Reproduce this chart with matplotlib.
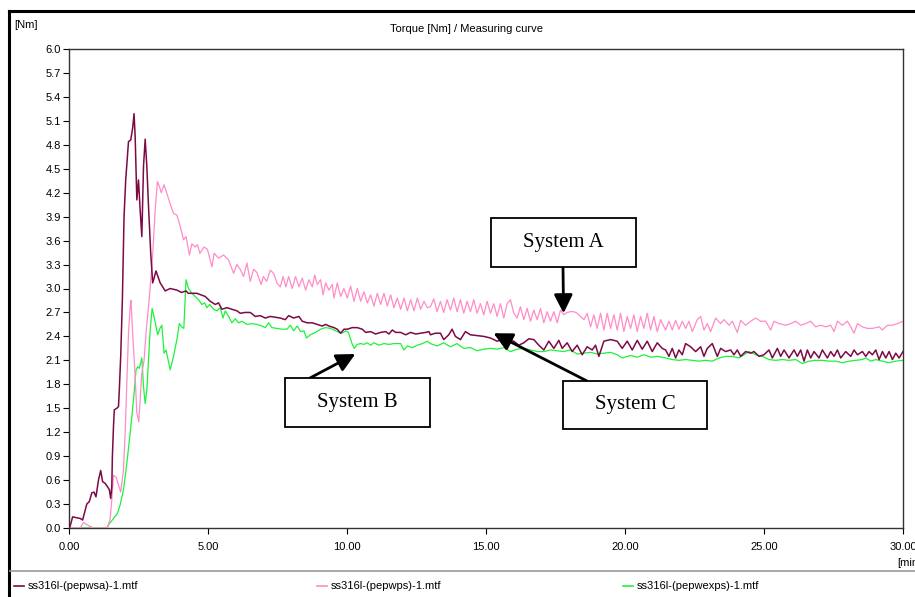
import numpy as np
import matplotlib
matplotlib.use('Agg')
import matplotlib.pyplot as plt
from matplotlib.lines import Line2D
from matplotlib.patches import Rectangle

# torque curves: (time [min], torque [Nm])
wsa = [(0.0, 0.0), (0.04, 0.02), (0.13, 0.14), (0.25, 0.13), (0.40, 0.12), (0.49, 0.10), (0.64, 0.30),
       (0.73, 0.33), (0.82, 0.44), (0.90, 0.45), (0.97, 0.39), (1.06, 0.60), (1.14, 0.72), (1.21, 0.58),
       (1.30, 0.56), (1.38, 0.52), (1.45, 0.48), (1.50, 0.37), (1.54, 0.52), (1.56, 0.89), (1.60, 1.27),
       (1.63, 1.48), (1.72, 1.50), (1.78, 1.52), (1.81, 1.73), (1.86, 2.15), (1.92, 2.86), (1.98, 3.90),
       (2.04, 4.36), (2.14, 4.84), (2.22, 4.86), (2.29, 5.01), (2.34, 5.19), (2.38, 4.90), (2.44, 4.11),
       (2.50, 4.36), (2.56, 3.98), (2.62, 3.65), (2.68, 4.53), (2.74, 4.87), (2.80, 4.53), (2.86, 4.03),
       (2.94, 3.44), (3.01, 3.07), (3.06, 3.13), (3.13, 3.22), (3.28, 3.07), (3.46, 2.97), (3.64, 3.00),
       (3.88, 2.98), (4.05, 2.95), (4.21, 2.97), (4.29, 2.94), (4.60, 2.94), (4.90, 2.90), (5.08, 2.84),
       (5.26, 2.80), (5.38, 2.82), (5.50, 2.74), (5.68, 2.76), (5.86, 2.74), (6.04, 2.72), (6.16, 2.69),
       (6.34, 2.70), (6.52, 2.70), (6.70, 2.65), (6.88, 2.66), (7.06, 2.63), (7.24, 2.65), (7.42, 2.64),
       (7.60, 2.63), (7.78, 2.61), (7.90, 2.66), (8.08, 2.63), (8.27, 2.65), (8.39, 2.59), (8.57, 2.57),
       (8.75, 2.57), (8.93, 2.55), (9.11, 2.53), (9.23, 2.55), (9.35, 2.53), (9.53, 2.51), (9.65, 2.49),
       (9.77, 2.44), (9.89, 2.49), (10.01, 2.49), (10.19, 2.51), (10.37, 2.51), (10.55, 2.49), (10.67, 2.45),
       (10.85, 2.46), (11.03, 2.43), (11.21, 2.45), (11.39, 2.46), (11.51, 2.43), (11.63, 2.48), (11.75, 2.45),
       (11.93, 2.45), (12.11, 2.42), (12.29, 2.45), (12.47, 2.43), (12.65, 2.44), (12.83, 2.45), (12.95, 2.46),
       (13.00, 2.42), (13.18, 2.44), (13.36, 2.44), (13.48, 2.36), (13.66, 2.42), (13.78, 2.49), (13.90, 2.40),
       (14.08, 2.36), (14.26, 2.46), (14.44, 2.42), (14.68, 2.41), (14.92, 2.40), (15.16, 2.38), (15.40, 2.34),
       (15.58, 2.36), (15.76, 2.36), (16.00, 2.34), (16.18, 2.29), (16.36, 2.32), (16.54, 2.37), (16.72, 2.36),
       (16.90, 2.29), (17.08, 2.23), (17.26, 2.34), (17.44, 2.25), (17.62, 2.35), (17.74, 2.25), (17.92, 2.32),
       (18.10, 2.21), (18.28, 2.29), (18.46, 2.17), (18.64, 2.27), (18.82, 2.23), (18.94, 2.29), (19.06, 2.15),
       (19.24, 2.34), (19.48, 2.36), (19.72, 2.34), (19.90, 2.25), (20.08, 2.34), (20.26, 2.23), (20.44, 2.35),
       (20.62, 2.24), (20.80, 2.34), (20.98, 2.21), (21.16, 2.32), (21.34, 2.25), (21.46, 2.23), (21.58, 2.15),
       (21.70, 2.25), (21.82, 2.13), (21.94, 2.23), (22.06, 2.17), (22.18, 2.31), (22.36, 2.27), (22.54, 2.21),
       (22.72, 2.27), (22.84, 2.15), (22.96, 2.25), (23.14, 2.31), (23.32, 2.15), (23.44, 2.25), (23.62, 2.21),
       (23.80, 2.23), (23.92, 2.17), (24.04, 2.23), (24.16, 2.15), (24.34, 2.21), (24.52, 2.19), (24.64, 2.21),
       (24.82, 2.15), (25.00, 2.17), (25.18, 2.23), (25.30, 2.13), (25.48, 2.25), (25.60, 2.15), (25.72, 2.23),
       (25.90, 2.13), (26.08, 2.23), (26.20, 2.15), (26.32, 2.23), (26.44, 2.09), (26.56, 2.23), (26.68, 2.13),
       (26.80, 2.21), (26.98, 2.13), (27.10, 2.23), (27.28, 2.13), (27.40, 2.21), (27.52, 2.15), (27.64, 2.23),
       (27.76, 2.13), (27.94, 2.21), (28.12, 2.15), (28.24, 2.23), (28.36, 2.17), (28.54, 2.21), (28.66, 2.15),
       (28.78, 2.21), (28.90, 2.17), (29.02, 2.23), (29.14, 2.11), (29.26, 2.21), (29.38, 2.13), (29.50, 2.21),
       (29.62, 2.11), (29.74, 2.19), (29.86, 2.13), (30.00, 2.21)]

wps = [(0.0, 0.0), (0.40, 0.0), (0.52, 0.07), (0.70, 0.03), (0.88, 0.0), (1.39, 0.0), (1.48, 0.12),
       (1.54, 0.35), (1.60, 0.66), (1.69, 0.64), (1.78, 0.54), (1.86, 0.45), (1.96, 0.73), (2.02, 1.19),
       (2.08, 1.81), (2.14, 2.44), (2.20, 2.77), (2.23, 2.85), (2.29, 2.44), (2.38, 1.90), (2.44, 1.44),
       (2.51, 1.33), (2.56, 1.60), (2.62, 1.94), (2.70, 2.10), (2.77, 2.44), (2.86, 2.77), (2.98, 3.27),
       (3.04, 3.61), (3.10, 3.98), (3.18, 4.34), (3.25, 4.28), (3.32, 4.20), (3.42, 4.30), (3.52, 4.19),
       (3.64, 4.06), (3.76, 3.94), (3.88, 3.92), (4.00, 3.78), (4.12, 3.61), (4.21, 3.65), (4.33, 3.42),
       (4.42, 3.56), (4.54, 3.52), (4.62, 3.55), (4.71, 3.44), (4.86, 3.52), (4.98, 3.49), (5.14, 3.27),
       (5.22, 3.44), (5.38, 3.38), (5.56, 3.42), (5.74, 3.36), (5.92, 3.19), (6.04, 3.30), (6.16, 3.24),
       (6.28, 3.15), (6.40, 3.32), (6.52, 3.09), (6.64, 3.24), (6.76, 3.20), (6.91, 3.05), (6.99, 3.15),
       (7.11, 3.09), (7.24, 3.23), (7.36, 3.19), (7.48, 3.07), (7.60, 3.02), (7.70, 3.15), (7.80, 3.02),
       (7.90, 3.15), (8.03, 3.00), (8.15, 3.15), (8.27, 3.02), (8.39, 3.13), (8.51, 2.98), (8.63, 3.11),
       (8.75, 3.02), (8.84, 3.17), (8.93, 3.05), (9.05, 3.11), (9.14, 2.92), (9.23, 3.07), (9.35, 2.98),
       (9.47, 3.05), (9.53, 2.88), (9.65, 3.07), (9.77, 2.90), (9.89, 3.00), (10.01, 2.88), (10.13, 3.03),
       (10.25, 2.84), (10.37, 3.00), (10.49, 2.84), (10.61, 2.96), (10.73, 2.82), (10.85, 2.92), (10.97, 2.78),
       (11.09, 2.94), (11.21, 2.80), (11.33, 2.94), (11.45, 2.78), (11.57, 2.92), (11.69, 2.76), (11.81, 2.88),
       (11.93, 2.74), (12.05, 2.88), (12.17, 2.72), (12.29, 2.86), (12.41, 2.72), (12.53, 2.88), (12.65, 2.74),
       (12.77, 2.84), (12.89, 2.76), (13.00, 2.77), (13.12, 2.87), (13.24, 2.71), (13.36, 2.84), (13.48, 2.70),
       (13.60, 2.86), (13.72, 2.73), (13.84, 2.88), (13.96, 2.71), (14.08, 2.86), (14.20, 2.69), (14.32, 2.84),
       (14.44, 2.71), (14.56, 2.86), (14.68, 2.69), (14.80, 2.81), (14.92, 2.67), (15.04, 2.84), (15.16, 2.69),
       (15.28, 2.81), (15.40, 2.65), (15.52, 2.81), (15.64, 2.63), (15.76, 2.81), (15.88, 2.86), (16.00, 2.69),
       (16.12, 2.63), (16.24, 2.77), (16.36, 2.61), (16.48, 2.75), (16.60, 2.59), (16.72, 2.73), (16.84, 2.61),
       (16.96, 2.75), (17.08, 2.57), (17.20, 2.71), (17.32, 2.59), (17.44, 2.71), (17.56, 2.57), (17.68, 2.73),
       (17.80, 2.67), (17.92, 2.70), (18.04, 2.71), (18.16, 2.71), (18.28, 2.69), (18.40, 2.65), (18.52, 2.61),
       (18.64, 2.69), (18.76, 2.52), (18.88, 2.67), (19.00, 2.50), (19.12, 2.69), (19.24, 2.48), (19.36, 2.69),
       (19.48, 2.50), (19.60, 2.67), (19.72, 2.48), (19.84, 2.69), (19.96, 2.46), (20.08, 2.65), (20.20, 2.50),
       (20.32, 2.67), (20.44, 2.46), (20.56, 2.65), (20.68, 2.50), (20.80, 2.69), (20.92, 2.48), (21.04, 2.65),
       (21.16, 2.46), (21.28, 2.61), (21.46, 2.48), (21.58, 2.59), (21.70, 2.48), (21.82, 2.60), (21.94, 2.49),
       (22.06, 2.59), (22.18, 2.50), (22.30, 2.59), (22.42, 2.46), (22.60, 2.61), (22.72, 2.65), (22.84, 2.48),
       (22.96, 2.56), (23.08, 2.46), (23.26, 2.63), (23.44, 2.56), (23.56, 2.61), (23.74, 2.54), (23.86, 2.59),
       (24.04, 2.45), (24.16, 2.60), (24.34, 2.54), (24.52, 2.59), (24.70, 2.63), (24.88, 2.59), (25.06, 2.59),
       (25.24, 2.48), (25.36, 2.59), (25.54, 2.56), (25.78, 2.54), (25.96, 2.56), (26.14, 2.59), (26.32, 2.54),
       (26.50, 2.56), (26.68, 2.59), (26.86, 2.52), (27.04, 2.54), (27.22, 2.52), (27.40, 2.54), (27.52, 2.46),
       (27.64, 2.59), (27.82, 2.54), (28.00, 2.59), (28.12, 2.52), (28.24, 2.44), (28.36, 2.56), (28.54, 2.52),
       (28.72, 2.50), (28.90, 2.50), (29.14, 2.52), (29.26, 2.48), (29.44, 2.54), (29.62, 2.54), (29.80, 2.56),
       (30.00, 2.59)]

wexps = [(0.0, 0.0), (1.36, 0.0), (1.42, 0.04), (1.60, 0.12), (1.74, 0.18), (1.84, 0.29), (1.96, 0.48),
         (2.08, 0.81), (2.20, 1.19), (2.32, 1.60), (2.41, 1.98), (2.47, 2.02), (2.53, 2.00), (2.62, 2.13),
         (2.68, 1.77), (2.74, 1.56), (2.80, 1.73), (2.86, 2.10), (2.92, 2.48), (2.99, 2.75), (3.07, 2.63),
         (3.19, 2.42), (3.27, 2.50), (3.34, 2.54), (3.42, 2.19), (3.49, 2.23), (3.55, 2.13), (3.64, 1.98),
         (3.76, 2.15), (3.88, 2.36), (3.97, 2.56), (4.05, 2.52), (4.13, 2.50), (4.21, 3.11), (4.30, 3.00),
         (4.42, 2.94), (4.54, 2.90), (4.66, 2.86), (4.78, 2.80), (4.88, 2.82), (4.96, 2.76), (5.06, 2.80),
         (5.20, 2.74), (5.32, 2.72), (5.44, 2.76), (5.54, 2.63), (5.62, 2.72), (5.74, 2.65), (5.86, 2.57),
         (5.98, 2.62), (6.10, 2.57), (6.22, 2.59), (6.40, 2.55), (6.58, 2.56), (6.76, 2.55), (6.94, 2.53),
         (7.06, 2.51), (7.18, 2.57), (7.30, 2.51), (7.48, 2.50), (7.66, 2.49), (7.84, 2.49), (7.96, 2.54),
         (8.08, 2.47), (8.21, 2.53), (8.33, 2.46), (8.45, 2.47), (8.54, 2.38), (8.68, 2.42), (8.87, 2.45),
         (9.05, 2.49), (9.23, 2.51), (9.41, 2.50), (9.59, 2.47), (9.71, 2.45), (9.83, 2.44), (9.95, 2.47),
         (10.05, 2.45), (10.18, 2.31), (10.26, 2.25), (10.37, 2.30), (10.49, 2.31), (10.61, 2.30), (10.73, 2.32),
         (10.85, 2.29), (10.97, 2.32), (11.15, 2.29), (11.33, 2.31), (11.51, 2.30), (11.69, 2.31), (11.93, 2.31),
         (12.05, 2.23), (12.17, 2.28), (12.35, 2.26), (12.53, 2.29), (12.71, 2.31), (12.89, 2.34), (13.00, 2.31),
         (13.24, 2.28), (13.48, 2.32), (13.72, 2.27), (13.96, 2.31), (14.20, 2.25), (14.44, 2.26), (14.68, 2.22),
         (14.92, 2.24), (15.16, 2.25), (15.40, 2.24), (15.64, 2.26), (15.88, 2.21), (16.12, 2.24), (16.36, 2.25),
         (16.60, 2.23), (16.84, 2.21), (17.08, 2.21), (17.32, 2.23), (17.56, 2.22), (17.80, 2.21), (18.04, 2.23),
         (18.28, 2.18), (18.52, 2.19), (18.76, 2.20), (19.00, 2.18), (19.24, 2.19), (19.48, 2.20), (19.72, 2.17),
         (19.90, 2.13), (20.20, 2.16), (20.44, 2.14), (20.68, 2.17), (20.92, 2.14), (21.16, 2.15), (21.46, 2.13),
         (21.70, 2.11), (21.94, 2.10), (22.18, 2.11), (22.42, 2.10), (22.66, 2.09), (22.90, 2.10), (23.14, 2.09),
         (23.38, 2.13), (23.62, 2.15), (23.86, 2.15), (24.10, 2.13), (24.28, 2.17), (24.46, 2.21), (24.70, 2.17),
         (24.94, 2.15), (25.18, 2.11), (25.42, 2.10), (25.66, 2.11), (25.90, 2.10), (26.14, 2.11), (26.38, 2.06),
         (26.62, 2.09), (26.86, 2.10), (27.10, 2.10), (27.34, 2.09), (27.58, 2.09), (27.82, 2.07), (28.06, 2.09),
         (28.30, 2.10), (28.54, 2.11), (28.66, 2.13), (28.84, 2.09), (29.02, 2.11), (29.26, 2.09), (29.50, 2.07),
         (29.74, 2.09), (30.00, 2.10)]

names = ['ss316l-(pepwsa)-1.mtf', 'ss316l-(pepwps)-1.mtf', 'ss316l-(pepwexps)-1.mtf']
colors = ['#7d0a45', '#ff8cc8', '#1ef23c']

# annotation labels and the (time, torque) each arrow points at
labels = ['System A', 'System B', 'System C']
targets = [(17.79, 2.69), (10.30, 2.18), (15.27, 2.44)]

W, H = 915, 597
plt.rcParams['font.family'] = ['Liberation Sans', 'DejaVu Sans']


def px(x, y):
    # image pixel (top-left origin) -> figure fraction
    return x / W, 1 - y / H


fig = plt.figure(figsize=(W / 100, H / 100), dpi=100)
x0, y0 = px(69, 528)
x1, y1 = px(903, 49)
ax = fig.add_axes([x0, y0, x1 - x0, y1 - y0])

for series, c, lw, z in [(wexps, colors[2], 0.9, 2), (wps, colors[1], 0.9, 3), (wsa, colors[0], 1.1, 4)]:
    d = np.array(series)
    ax.plot(d[:, 0], d[:, 1], color=c, lw=lw, zorder=z)

ax.set_xlim(0, 30)
ax.set_ylim(0, 6)
ax.set_xticks(np.arange(0, 31, 5))
ax.set_xticklabels(['%.2f' % v for v in np.arange(0, 31, 5)])
ax.set_yticks(np.arange(0, 6.01, 0.3))
ax.set_yticklabels(['%.1f' % v for v in np.arange(0, 6.01, 0.3)])
ax.tick_params(direction='out', length=4, width=0.8, labelsize=8, pad=2)
ax.tick_params(axis='x', pad=6)
for s in ax.spines.values():
    s.set_color('#333333')
    s.set_linewidth(1.0)

fig.text(*px(467, 29), 'Torque [Nm] / Measuring curve', ha='center', va='center', fontsize=8)
fig.text(*px(14, 25), '[Nm]', ha='left', va='center', fontsize=8)
fig.text(*px(897, 563), '[min]', ha='left', va='center', fontsize=8)

# outer window frame and legend separator
fig.add_artist(Line2D([9 / W, 1], [1 - 11 / H] * 2, color='black', lw=2.2, transform=fig.transFigure))
fig.add_artist(Line2D([9 / W] * 2, [0, 1 - 11 / H], color='black', lw=2.2, transform=fig.transFigure))
fig.add_artist(Line2D([10 / W, 1], [1 - 571 / H] * 2, color='#9a9a9a', lw=1.2, transform=fig.transFigure))

# legend row
for name, c, xs in zip(names, colors, [14, 317, 623]):
    fig.add_artist(Line2D([xs / W, (xs + 10) / W], [1 - 586 / H] * 2, color=c, lw=1.2,
                          transform=fig.transFigure))
    fig.text(*px(xs + 14, 586), name, ha='left', va='center', fontsize=8)

# boxed labels with arrows
boxes = [(491, 218, 145, 49), (285, 378, 145, 49), (563, 381, 144, 48)]
starts = [(563, 267), (310, 378), (587, 381)]
for lab, (bx, by, bw, bh), (sx, sy), tgt in zip(labels, boxes, starts, targets):
    rx, ry = px(bx, by + bh)
    fig.add_artist(Rectangle((rx, ry), bw / W, bh / H, transform=fig.transFigure,
                             facecolor='white', edgecolor='black', lw=1.3, zorder=10))
    fig.text(*px(bx + bw / 2, by + bh / 2), lab, ha='center', va='center', fontsize=15,
             family=['Liberation Serif', 'DejaVu Serif'], zorder=11)
    ax.annotate('', xy=tgt, xycoords='data', xytext=(sx, H - sy), textcoords='figure pixels',
                arrowprops=dict(arrowstyle='-|>,head_length=0.8,head_width=0.4', mutation_scale=14,
                                color='black', lw=2.0, shrinkA=0, shrinkB=0), zorder=12)

fig.savefig('out.png', dpi=100)
